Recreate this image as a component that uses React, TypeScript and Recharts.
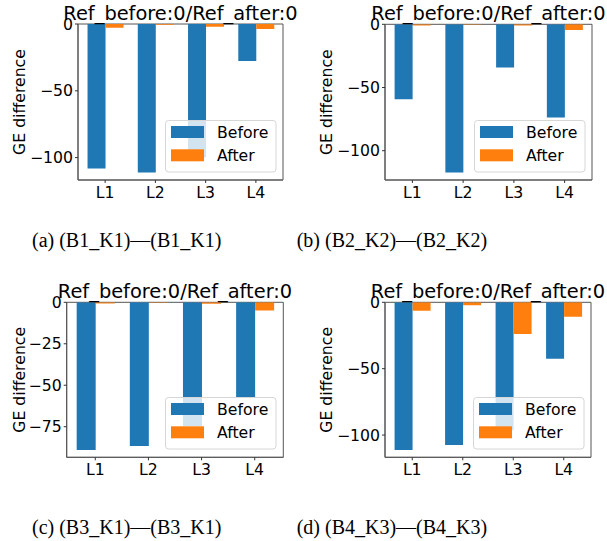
import { BarChart, Bar, XAxis, YAxis, Legend, CartesianGrid } from 'recharts'

const CATEGORIES = ['L1', 'L2', 'L3', 'L4']
const SERIES = ['Before', 'After']

const BEFORE_A = [-108.2, -111.2, -99.8, -27.6]
const AFTER_A = [-2.8, -0.5, -2.0, -3.7]
const BEFORE_B = [-59.2, -117.3, -34.2, -73.7]
const AFTER_B = [-0.9, -0.4, -1.0, -4.5]
const BEFORE_C = [-89.0, -86.6, -74.6, -57.2]
const AFTER_C = [-0.7, -0.2, -0.8, -5.0]
const BEFORE_D = [-111.2, -107.5, -96.3, -42.5]
const AFTER_D = [-6.3, -2.3, -23.8, -10.8]

const TICKS_50 = [-100, -50, 0]
const TICKS_25 = [-75, -50, -25, 0]

const TITLE = 'Ref_before:0/Ref_after:0'
const Y_LABEL = 'GE difference'
const CAPTIONS = [
  '(a) (B1_K1)\u2014(B1_K1)',
  '(b) (B2_K2)\u2014(B2_K2)',
  '(c) (B3_K1)\u2014(B3_K1)',
  '(d) (B4_K3)\u2014(B4_K3)',
]

const BLUE = '#1f77b4'
const ORANGE = '#ff7f0e'
const COLORS: Record<string, string> = { Before: BLUE, After: ORANGE }
const FONT = 'DejaVu Sans, sans-serif'
const CHART_W = 300
const CHART_H = 215
const X_AXIS_H = 30

const panels = [
  { before: BEFORE_A, after: AFTER_A, ticks: TICKS_50, left: 0, top: 0, plotLeft: 78, plotRight: 283, plotTop: 24, plotBottom: 180, labelX: 25, capX: 32, capY: 246.5 },
  { before: BEFORE_B, after: AFTER_B, ticks: TICKS_50, left: 300, top: 0, plotLeft: 385, plotRight: 592, plotTop: 24.3, plotBottom: 180, labelX: 331.7, capX: 296.7, capY: 246.5 },
  { before: BEFORE_C, after: AFTER_C, ticks: TICKS_25, left: 0, top: 278, plotLeft: 66.7, plotRight: 283.3, plotTop: 302.3, plotBottom: 457.3, labelX: 25, capX: 32, capY: 533.5 },
  { before: BEFORE_D, after: AFTER_D, ticks: TICKS_50, left: 300, top: 278, plotLeft: 385, plotRight: 591, plotTop: 302.3, plotBottom: 457.3, labelX: 331.7, capX: 296.7, capY: 533.5 },
]

const fmt = (v: number) => (v < 0 ? '\u2212' + Math.abs(v) : String(v))

// matplotlib-style legend: translucent white box over the bars
function LegendBox() {
  return (
    <svg width={112} height={53} style={{ display: 'block' }}>
      <rect x={0.5} y={0.5} width={110.5} height={51.5} rx={3} fill="#fff" fillOpacity={0.8} stroke="#d6d6d6" />
      {SERIES.map((name, i) => (
        <g key={name}>
          <rect x={6} y={6 + i * 23.3} width={33} height={12} fill={COLORS[name]} />
          <text x={52} y={17.6 + i * 23.4} fontSize={15.7} fontFamily={FONT} fill="#000">
            {name}
          </text>
        </g>
      ))}
    </svg>
  )
}

function Panel({ p }: { p: (typeof panels)[number] }) {
  const data = CATEGORIES.map((c, i) => ({ name: c, [SERIES[0]]: p.before[i], [SERIES[1]]: p.after[i] }))
  const yMin = Math.min(...p.before, ...p.after) * 1.05
  const margin = {
    top: p.plotTop - p.top,
    left: 0,
    right: p.left + CHART_W - p.plotRight,
    bottom: CHART_H - (p.plotBottom - p.top) - X_AXIS_H,
  }
  const tick = { fill: '#000', fontSize: 15.7, fontFamily: FONT }
  return (
    <div style={{ position: 'absolute', left: p.left, top: p.top }}>
      <BarChart width={CHART_W} height={CHART_H} data={data} margin={margin} barCategoryGap="15%" barGap={0}>
        {/* frame: grid lines only on the four plot edges */}
        <CartesianGrid stroke="#555"
          horizontalCoordinatesGenerator={({ offset }: any) => [offset.top, offset.top + offset.height]}
          verticalCoordinatesGenerator={({ offset }: any) => [offset.left, offset.left + offset.width]} />
        <XAxis dataKey="name" height={X_AXIS_H} tick={tick} tickSize={3} tickMargin={4} interval={0}
          padding={{ left: 2, right: 2 }} axisLine={{ stroke: '#555' }} tickLine={{ stroke: '#333' }} />
        <YAxis width={p.plotLeft - p.left} domain={[yMin, 0]} ticks={p.ticks} tickFormatter={fmt}
          tick={tick} tickSize={3} tickMargin={2} allowDataOverflow axisLine={{ stroke: '#555' }}
          tickLine={{ stroke: '#333' }} />
        <Bar dataKey={SERIES[0]} fill={BLUE} isAnimationActive={false} />
        <Bar dataKey={SERIES[1]} fill={ORANGE} isAnimationActive={false} />
        <Legend layout="horizontal" verticalAlign="middle" align="center" content={<LegendBox />}
          wrapperStyle={{ left: p.plotRight - p.left - 7 - 111, top: p.plotBottom - p.top - 8 - 52, width: 112, height: 53 }} />
      </BarChart>
    </div>
  )
}

export default function App() {
  return (
    <div style={{ position: 'absolute', left: 0, top: 0, width: 607, height: 541, background: '#fff' }}>
      {panels.map((p, i) => (
        <Panel key={i} p={p} />
      ))}
      <svg width={607} height={541} style={{ position: 'absolute', left: 0, top: 0, pointerEvents: 'none' }}>
        {panels.map((p, i) => {
          const cy = (p.plotTop + p.plotBottom) / 2
          return (
            <g key={i}>
              <text x={(p.plotLeft + p.plotRight) / 2} y={p.plotTop - 4} textAnchor="middle" fontSize={19.4}
                fontFamily={FONT} fill="#000">
                {TITLE}
              </text>
              <text x={p.labelX} y={cy} transform={`rotate(-90, ${p.labelX}, ${cy})`} textAnchor="middle"
                fontSize={15.7} fontFamily={FONT} fill="#000">
                {Y_LABEL}
              </text>
              <text x={p.capX} y={p.capY} fontSize={20} fontFamily="Liberation Serif, serif" fill="#000">
                {CAPTIONS[i]}
              </text>
            </g>
          )
        })}
      </svg>
    </div>
  )
}
